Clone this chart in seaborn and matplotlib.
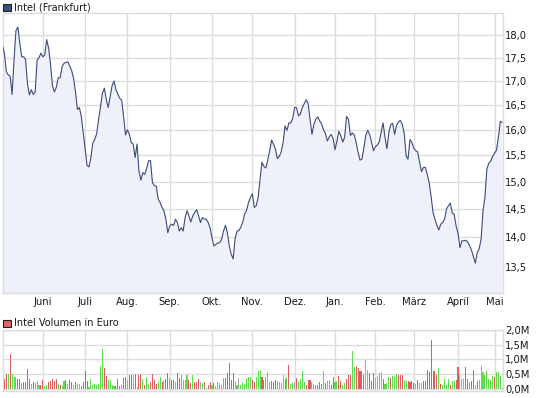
import numpy as np
import pandas as pd
import matplotlib
matplotlib.use("Agg")
import matplotlib.pyplot as plt
import seaborn as sns
from matplotlib.ticker import FixedLocator, NullLocator, FuncFormatter
from matplotlib.patches import Rectangle

# ------------------------------------------------------------
# data (one value per trading day)
# ------------------------------------------------------------
price = [
    17.76, 17.60, 17.20, 17.13, 17.10, 16.72, 17.45, 18.10, 18.18, 17.82,
    17.52, 17.52, 17.46, 16.94, 16.71, 16.82, 16.72, 16.77, 17.45, 17.50,
    17.60, 17.52, 17.56, 17.90, 17.71, 17.35, 16.90, 16.77, 16.87, 17.07,
    17.07, 17.31, 17.38, 17.40, 17.41, 17.32, 17.22, 17.05, 16.76, 16.41,
    16.45, 16.27, 15.94, 15.63, 15.31, 15.28, 15.46, 15.74, 15.81, 15.93,
    16.21, 16.47, 16.75, 16.85, 16.61, 16.45, 16.67, 16.90, 17.00, 16.82,
    16.73, 16.64, 16.60, 16.27, 15.90, 16.00, 15.91, 15.75, 15.72, 15.46,
    15.72, 15.20, 15.03, 15.17, 15.14, 15.25, 15.40, 15.40, 14.99, 14.93,
    14.92, 14.68, 14.62, 14.53, 14.47, 14.32, 14.08, 14.20, 14.23, 14.21,
    14.32, 14.26, 14.11, 14.17, 14.11, 14.35, 14.47, 14.38, 14.27, 14.38,
    14.44, 14.49, 14.38, 14.26, 14.35, 14.32, 14.32, 14.26, 14.17, 13.99,
    13.85, 13.88, 13.90, 13.91, 13.97, 14.11, 14.21, 14.08, 13.85, 13.71,
    13.63, 13.97, 14.11, 14.12, 14.18, 14.27, 14.41, 14.48, 14.62, 14.71,
    14.78, 14.53, 14.56, 14.71, 15.05, 15.37, 15.29, 15.26, 15.41, 15.59,
    15.80, 15.72, 15.62, 15.44, 15.48, 15.57, 15.75, 16.08, 15.99, 16.14,
    16.14, 16.23, 16.45, 16.45, 16.28, 16.32, 16.45, 16.53, 16.61, 16.53,
    16.21, 15.91, 16.11, 16.21, 16.26, 16.18, 16.12, 16.00, 15.93, 15.78,
    15.86, 15.91, 15.83, 15.61, 15.78, 15.97, 15.89, 15.76, 15.85, 16.27,
    16.21, 15.89, 15.94, 15.90, 15.75, 15.56, 15.41, 15.43, 15.64, 15.89,
    15.99, 15.91, 15.76, 15.59, 15.67, 15.70, 15.76, 15.95, 16.14, 15.85,
    15.63, 15.94, 16.11, 16.13, 15.91, 16.09, 16.16, 16.19, 16.11, 15.93,
    15.49, 15.43, 15.81, 15.75, 15.64, 15.59, 15.57, 15.37, 15.19, 15.27,
    15.27, 15.14, 14.98, 14.73, 14.44, 14.32, 14.21, 14.13, 14.23, 14.26,
    14.32, 14.50, 14.56, 14.61, 14.43, 14.41, 14.20, 14.07, 13.82, 13.94,
    13.94, 13.95, 13.92, 13.86, 13.78, 13.67, 13.56, 13.74, 13.80, 13.97,
    14.47, 14.71, 15.24, 15.35, 15.39, 15.48, 15.54, 15.60, 15.85, 16.17,
    16.15,
]

# volume in million euro
volume = [
    0.20, 0.34, 0.50, 0.50, 1.18, 0.50, 0.40, 0.40, 0.34, 0.34,
    0.20, 0.24, 0.24, 0.67, 0.34, 0.17, 0.24, 0.20, 0.28, 0.15,
    0.15, 0.30, 0.11, 0.15, 0.24, 0.28, 0.34, 0.26, 0.34, 0.17,
    0.12, 0.10, 0.28, 0.30, 0.17, 0.30, 0.24, 0.15, 0.24, 0.18,
    0.17, 0.11, 0.24, 0.62, 0.28, 0.08, 0.34, 0.15, 0.17, 0.15,
    0.17, 0.76, 1.35, 0.71, 0.43, 0.30, 0.30, 0.15, 0.11, 0.10,
    0.34, 0.11, 0.15, 0.37, 0.39, 0.30, 0.46, 0.46, 0.48, 0.50,
    0.06, 0.48, 0.50, 0.34, 0.15, 0.39, 0.17, 0.24, 0.50, 0.30,
    0.17, 0.24, 0.39, 0.24, 0.26, 0.34, 0.53, 0.37, 0.30, 0.30,
    0.24, 0.54, 0.37, 0.46, 0.30, 0.30, 0.46, 0.30, 0.20, 0.46,
    0.24, 0.24, 0.34, 0.24, 0.20, 0.24, 0.03, 0.15, 0.24, 0.15,
    0.20, 0.09, 0.24, 0.20, 0.15, 0.37, 0.37, 0.54, 0.88, 0.30,
    0.54, 0.28, 0.15, 0.37, 0.15, 0.20, 0.17, 0.37, 0.40, 0.40,
    0.30, 0.24, 0.40, 0.62, 0.62, 0.40, 0.30, 0.40, 0.57, 0.24,
    0.28, 0.24, 0.30, 0.28, 0.24, 0.20, 0.46, 0.34, 0.40, 0.81,
    0.17, 0.20, 0.24, 0.37, 0.24, 0.34, 0.62, 0.24, 0.15, 0.30,
    0.30, 0.24, 0.17, 0.15, 0.15, 0.24, 0.17, 0.62, 0.20, 0.28,
    0.30, 0.15, 0.40, 0.24, 0.28, 0.43, 0.28, 0.15, 0.20, 0.34,
    0.46, 0.48, 1.29, 0.73, 0.76, 0.71, 0.60, 0.62, 0.46, 0.99,
    0.65, 0.54, 0.28, 0.53, 0.37, 0.43, 0.54, 0.56, 0.34, 0.17,
    0.20, 0.39, 0.37, 0.43, 0.39, 0.51, 0.46, 0.48, 0.46, 0.31,
    0.28, 0.28, 0.24, 0.26, 0.20, 0.17, 0.30, 0.20, 0.20, 0.26,
    0.26, 0.64, 0.56, 1.66, 0.60, 0.62, 0.46, 0.71, 0.17, 0.15,
    0.34, 0.15, 0.34, 0.15, 0.26, 0.26, 0.30, 0.73, 0.46, 0.34,
    0.34, 0.73, 0.34, 0.24, 0.26, 0.65, 0.15, 0.26, 0.30, 0.76,
    0.57, 0.46, 0.62, 0.34, 0.30, 0.43, 0.39, 0.56, 0.56, 0.45,
    0.03,
]

# G = up day, R = down day, N = unchanged
direction = (
    "GRRGRGGGRR" "GRRRRGRGGG" "RRGGRRRRRG" "RGGRGRRGRG" "GRRRRGGGGG"
    "GGGRRGGGGR" "RRGRRGRRNR" "GRRGRGGRRR" "RGGRGRRGRR" "GRRGGGGRRG"
    "RRRNGRGRRG" "RGGGGGRRRR" "RNGNGGGGGG" "RRGGGRRGGG" "RRRGGGGRGR"
    "GGNRGGGGRR" "RGGGRRRGRG" "GRRGGRRGGR" "RRGGRRRRRG" "GRRRGGGGRG"
    "GGRGGGRRRG" "GRRRRGRGNR" "RRRRRRRGRG" "GGGRGGRRGG" "GRRGRRGRGG"
    "GGGGGGRGGG" "R"
)

holidays = ["2010-12-24", "2010-12-31", "2011-04-22", "2011-04-25"]
month_labels = ["Juni", "Juli", "Aug.", "Sep.", "Okt.", "Nov.", "Dez.",
                "Jan.", "Feb.", "März", "April", "Mai"]
price_ticks = [13.5, 14.0, 14.5, 15.0, 15.5, 16.0, 16.5, 17.0, 17.5, 18.0]
vol_ticks = [0.0, 0.5, 1.0, 1.5, 2.0]

dates = pd.bdate_range("2010-05-03", "2011-05-06")
dates = dates[~dates.isin(pd.to_datetime(holidays))]

df = pd.DataFrame({
    "idx": np.arange(len(dates)),
    "date": dates,
    "price": price,
    "volume": volume,
    "dir": list(direction),
})

# first trading day of each month -> gridline position
month_pos = df.groupby(df["date"].dt.to_period("M"))["idx"].min().values[1:]

# ------------------------------------------------------------
# style
# ------------------------------------------------------------
sns.set_theme(style="white")
plt.rcParams["font.family"] = ["DejaVu Sans"]

LINE = "#3b4c7a"
FILL = "#eef1fa"
GRID = "#dcdcdc"
TXT = "#1a1a1a"
palette = {"G": "#5fdc4c", "R": "#dc5f5f", "N": "#aaaaaa"}

W, H = 545, 398
fig = plt.figure(figsize=(W / 100, H / 100), dpi=100)
ax = fig.add_axes([2.5 / W, 1 - 293 / H, 500.5 / W, 280 / H])
ax2 = fig.add_axes([2.5 / W, 1 - 390.5 / H, 500.5 / W, 60.8 / H])

# ------------------------------------------------------------
# price panel
# ------------------------------------------------------------
ax.fill_between(df["idx"], df["price"], 10, color=FILL, lw=0, zorder=1)
sns.lineplot(data=df, x="idx", y="price", ax=ax, color=LINE, linewidth=0.8, zorder=3)

ax.set_yscale("log")
ax.set_ylim(13.065, 18.5)
ax.set_xlim(0, 260.4)
ax.yaxis.set_major_locator(FixedLocator(price_ticks))
ax.yaxis.set_minor_locator(NullLocator())
ax.yaxis.set_major_formatter(FuncFormatter(lambda v, p: f"{v:.1f}".replace(".", ",")))
ax.yaxis.tick_right()
ax.set_xticks(month_pos)
ax.set_xticklabels(month_labels)
ax.set_xlabel("")
ax.set_ylabel("")
ax.grid(True, color=GRID, lw=1)
ax.set_axisbelow(True)
ax.tick_params(axis="both", length=0, labelsize=7.2, colors=TXT)
ax.tick_params(axis="y", pad=1.5)
ax.tick_params(axis="x", pad=3)
for s in ax.spines.values():
    s.set_color(GRID)
    s.set_linewidth(1)

# ------------------------------------------------------------
# volume panel
# ------------------------------------------------------------
sns.barplot(data=df, x="idx", y="volume", hue="dir", palette=palette,
            native_scale=True, dodge=False, width=0.55, saturation=1,
            errorbar=None, legend=False, linewidth=0, ax=ax2, zorder=3)
for bar in ax2.patches:
    bar.set_antialiased(False)

ax2.set_xlim(0, 260.4)
ax2.set_ylim(-0.05, 2.0)
ax2.set_yticks(vol_ticks)
ax2.yaxis.set_major_formatter(FuncFormatter(lambda v, p: f"{v:.1f}M".replace(".", ",")))
ax2.yaxis.tick_right()
ax2.set_xticks(month_pos)
ax2.set_xticklabels([])
ax2.set_xlabel("")
ax2.set_ylabel("")
ax2.grid(True, color=GRID, lw=1)
ax2.set_axisbelow(True)
ax2.tick_params(axis="both", length=0, labelsize=7.2, colors=TXT)
ax2.tick_params(axis="y", pad=1.5)
for s in ax2.spines.values():
    s.set_color(GRID)
    s.set_linewidth(1)

# ------------------------------------------------------------
# legend boxes
# ------------------------------------------------------------
fig.add_artist(Rectangle((3 / W, 1 - 11 / H), 7.5 / W, 7.5 / H, transform=fig.transFigure,
                         facecolor="#3d5080", edgecolor="#222222", lw=0.8))
fig.text(14 / W, 1 - 7 / H, "Intel (Frankfurt)", va="center", ha="left", fontsize=7, color=TXT)

fig.add_artist(Rectangle((3 / W, 1 - 327 / H), 7.5 / W, 7.5 / H, transform=fig.transFigure,
                         facecolor="#dd6666", edgecolor="#222222", lw=0.8))
fig.text(14 / W, 1 - 323 / H, "Intel Volumen in Euro", va="center", ha="left", fontsize=7, color=TXT)

fig.savefig("out.png", dpi=100)
